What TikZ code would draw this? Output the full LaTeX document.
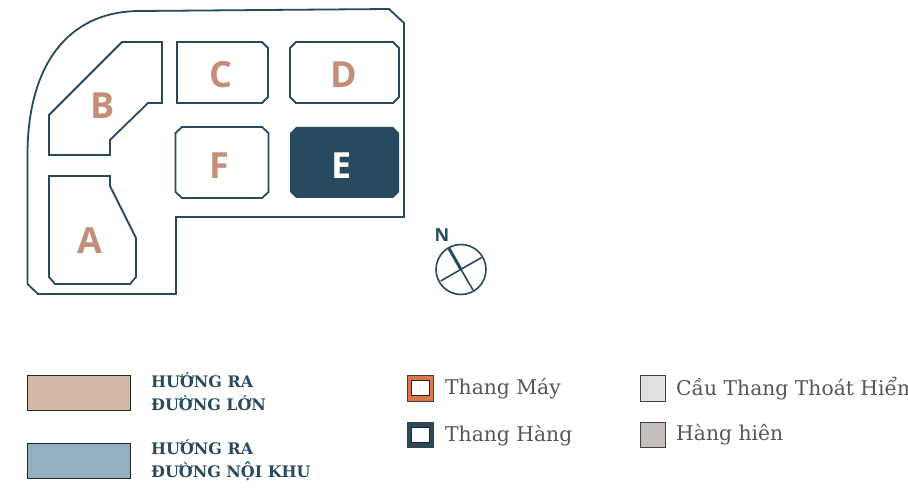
\documentclass[tikz,border=0pt]{standalone}
\usepackage{fontspec}
\setmainfont{DejaVu Serif}
\newfontfamily\blockfont{Open Sans}
\definecolor{navy}{HTML}{274A5E}
\definecolor{salmon}{HTML}{C48E78}
\definecolor{sand}{HTML}{D2B8A7}
\definecolor{steel}{HTML}{94B0BE}
\definecolor{lift}{HTML}{D9784C}
\definecolor{stairs}{HTML}{E3E0E0}
\definecolor{porch}{HTML}{C4BFBD}
\definecolor{ink}{HTML}{555555}
\tikzset{wall/.style={draw=navy,line width=1.8pt,line join=miter}}
\tikzset{blocklabel/.style={font=\blockfont\bfseries\fontsize{36}{36}\selectfont,text=salmon}}
\tikzset{swatch/.style={draw=black!85,line width=1.3pt,inner sep=0pt,minimum width=103pt,minimum height=34.5pt,anchor=north west}}
\tikzset{chip/.style={draw=black!75,line width=1pt,inner sep=0pt,minimum size=25.5pt,anchor=north west}}
\tikzset{hole/.style={draw=black!85,fill=white,line width=1pt,inner sep=0pt,minimum width=17.5pt,minimum height=15pt}}
\tikzset{headlabel/.style={font=\bfseries\fontsize{15.9}{22.5}\selectfont,text=navy,align=left,anchor=west,inner sep=0pt}}
\tikzset{itemlabel/.style={font=\fontsize{20.3}{24}\selectfont,text=ink,anchor=west,inner sep=0pt}}
\begin{document}
\begin{tikzpicture}[x=1pt,y=-1pt]
	\useasboundingbox (0,0) rectangle (908,489);
	% site outline
	\draw[wall] (27.5,155) .. controls (27.5,65) and (68,11) .. (140,11) -- (389,9) -- (404,23)
		-- (404,217) -- (176,217) -- (176,294) -- (38,294) -- (27.5,284) -- cycle;
	% blocks
	\draw[wall] (49,115) -- (122,42) -- (162,42) -- (162,103) -- (148,103) -- (110,140) -- (110,155) -- (49,155) -- cycle;
	\draw[wall] (49,176) -- (110,176) -- (110,186) -- (136,238) -- (136,277) -- (130,284) -- (55,284) -- (49,277) -- cycle;
	\draw[wall] (177,42) -- (262,42) -- (268,48) -- (268,97) -- (262,103) -- (177,103) -- cycle;
	\draw[wall] (296,42) -- (393,42) -- (399,48) -- (399,97) -- (393,103) -- (296,103) -- (290,97) -- (290,48) -- cycle;
	\draw[wall] (182,127) -- (262,127) -- (268.5,133) -- (268.5,192) -- (262,198) -- (182,198) -- (175.5,192) -- (175.5,133) -- cycle;
	\draw[fill=navy,draw=none] (296,127) -- (393,127) -- (399,133) -- (399,192) -- (393,198) -- (296,198) -- (290,192) -- (290,133) -- cycle;
	\node[blocklabel] (blockA) at (90,241) {A};
	\node[blocklabel] (blockB) at (102.5,105.5) {B};
	\node[blocklabel] (blockC) at (220.5,74.5) {C};
	\node[blocklabel] (blockD) at (344,74.5) {D};
	\node[blocklabel,text=white] (blockE) at (341.5,165.5) {E};
	\node[blocklabel] (blockF) at (219.5,165.5) {F};
	% compass
	\node[font=\blockfont\bfseries\fontsize{18}{18}\selectfont,text=navy] (north) at (442,235) {N};
	\draw[navy,line width=1.6pt] (461,269.5) circle (25);
	\draw[navy,line width=1.6pt] (440.7,281) -- (481.5,257.5);
	\draw[navy,line width=1.6pt] (461,269.5) -- (473,290);
	\draw[navy,line width=3pt] (461,269.5) -- (449,248.5);
	% legend
	\node[swatch,fill=sand] (wayMain) at (27,375) {};
	\node[swatch,fill=steel] (wayInner) at (27,443) {};
	\node[headlabel] (wayMainText) at (151,391.5) {HƯỚNG RA\\ĐƯỜNG LỚN};
	\node[headlabel] (wayInnerText) at (151,460.5) {HƯỚNG RA\\ĐƯỜNG NỘI KHU};
	\node[chip,fill=lift] (lift) at (407,375) {};
	\node[hole] (liftHole) at (lift.center) {};
	\node[chip,fill=navy] (cargo) at (407,421.7) {};
	\node[hole] (cargoHole) at (cargo.center) {};
	\node[chip,fill=stairs] (escape) at (639.5,375) {};
	\node[chip,fill=porch] (porch) at (639.5,421.7) {};
	\node[itemlabel] (liftText) at (445,388.5) {Thang Máy};
	\node[itemlabel] (cargoText) at (445,436) {Thang Hàng};
	\node[itemlabel] (escapeText) at (676,388.5) {Cầu Thang Thoát Hiểm};
	\node[itemlabel] (porchText) at (676,435) {Hàng hiên};
\end{tikzpicture}
\end{document}
